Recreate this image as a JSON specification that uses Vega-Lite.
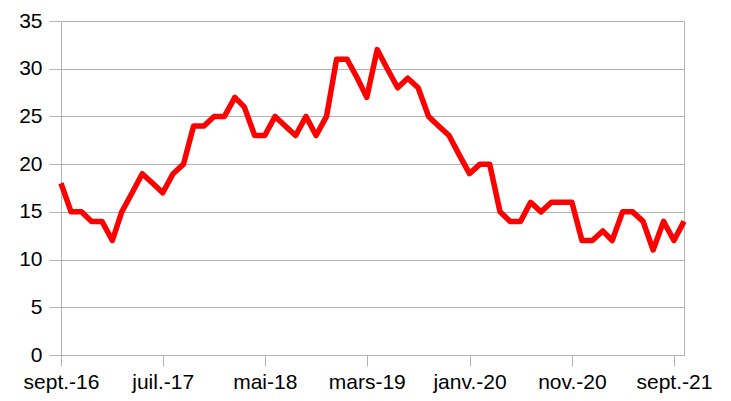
{
  "$schema": "https://vega.github.io/schema/vega-lite/v6.json",
  "autosize": "none",
  "width": 623,
  "height": 334,
  "padding": {"left": 61, "top": 21, "right": 47, "bottom": 46},
  "background": "white",
  "config": {
    "view": {"stroke": "#b3b3b3", "strokeWidth": 1},
    "axis": {
      "labelFont": "Liberation Sans",
      "labelFontSize": 21,
      "labelColor": "#000000",
      "domainColor": "#b3b3b3",
      "tickColor": "#b3b3b3",
      "gridColor": "#b3b3b3",
      "gridWidth": 1,
      "tickWidth": 1,
      "domainWidth": 1,
      "title": null
    }
  },
  "data": {
    "values": [
      {"date": "2016-09-01", "v": 18}, {"date": "2016-10-01", "v": 15}, {"date": "2016-11-01", "v": 15},
      {"date": "2016-12-01", "v": 14}, {"date": "2017-01-01", "v": 14}, {"date": "2017-02-01", "v": 12},
      {"date": "2017-03-01", "v": 15}, {"date": "2017-04-01", "v": 17}, {"date": "2017-05-01", "v": 19},
      {"date": "2017-06-01", "v": 18}, {"date": "2017-07-01", "v": 17}, {"date": "2017-08-01", "v": 19},
      {"date": "2017-09-01", "v": 20}, {"date": "2017-10-01", "v": 24}, {"date": "2017-11-01", "v": 24},
      {"date": "2017-12-01", "v": 25}, {"date": "2018-01-01", "v": 25}, {"date": "2018-02-01", "v": 27},
      {"date": "2018-03-01", "v": 26}, {"date": "2018-04-01", "v": 23}, {"date": "2018-05-01", "v": 23},
      {"date": "2018-06-01", "v": 25}, {"date": "2018-07-01", "v": 24}, {"date": "2018-08-01", "v": 23},
      {"date": "2018-09-01", "v": 25}, {"date": "2018-10-01", "v": 23}, {"date": "2018-11-01", "v": 25},
      {"date": "2018-12-01", "v": 31}, {"date": "2019-01-01", "v": 31}, {"date": "2019-02-01", "v": 29},
      {"date": "2019-03-01", "v": 27}, {"date": "2019-04-01", "v": 32}, {"date": "2019-05-01", "v": 30},
      {"date": "2019-06-01", "v": 28}, {"date": "2019-07-01", "v": 29}, {"date": "2019-08-01", "v": 28},
      {"date": "2019-09-01", "v": 25}, {"date": "2019-10-01", "v": 24}, {"date": "2019-11-01", "v": 23},
      {"date": "2019-12-01", "v": 21}, {"date": "2020-01-01", "v": 19}, {"date": "2020-02-01", "v": 20},
      {"date": "2020-03-01", "v": 20}, {"date": "2020-04-01", "v": 15}, {"date": "2020-05-01", "v": 14},
      {"date": "2020-06-01", "v": 14}, {"date": "2020-07-01", "v": 16}, {"date": "2020-08-01", "v": 15},
      {"date": "2020-09-01", "v": 16}, {"date": "2020-10-01", "v": 16}, {"date": "2020-11-01", "v": 16},
      {"date": "2020-12-01", "v": 12}, {"date": "2021-01-01", "v": 12}, {"date": "2021-02-01", "v": 13},
      {"date": "2021-03-01", "v": 12}, {"date": "2021-04-01", "v": 15}, {"date": "2021-05-01", "v": 15},
      {"date": "2021-06-01", "v": 14}, {"date": "2021-07-01", "v": 11}, {"date": "2021-08-01", "v": 14},
      {"date": "2021-09-01", "v": 12}, {"date": "2021-10-01", "v": 14}
    ]
  },
  "mark": {"type": "line", "color": "#ff0000", "strokeWidth": 5.5, "strokeJoin": "round", "clip": false},
  "encoding": {
    "x": {
      "field": "date",
      "type": "temporal",
      "scale": {"type": "utc", "domain": ["2016-09-01", "2021-10-01"], "nice": false},
      "axis": {
        "values": ["2016-09-01", "2017-07-01", "2018-05-01", "2019-03-01", "2020-01-01", "2020-11-01", "2021-09-01"],
        "labelExpr": "['janv.','févr.','mars','avr.','mai','juin','juil.','août','sept.','oct.','nov.','déc.'][utcmonth(datum.value)] + '-' + utcFormat(datum.value, '%y')",
        "grid": false,
        "tickSize": 11,
        "labelPadding": 5,
        "labelFlush": false,
        "labelOverlap": false,
        "domain": true
      }
    },
    "y": {
      "field": "v",
      "type": "quantitative",
      "scale": {"domain": [0, 35], "nice": false},
      "axis": {
        "values": [0, 5, 10, 15, 20, 25, 30, 35],
        "tickSize": 12,
        "labelPadding": 7,
        "grid": true,
        "domain": true
      }
    }
  }
}
